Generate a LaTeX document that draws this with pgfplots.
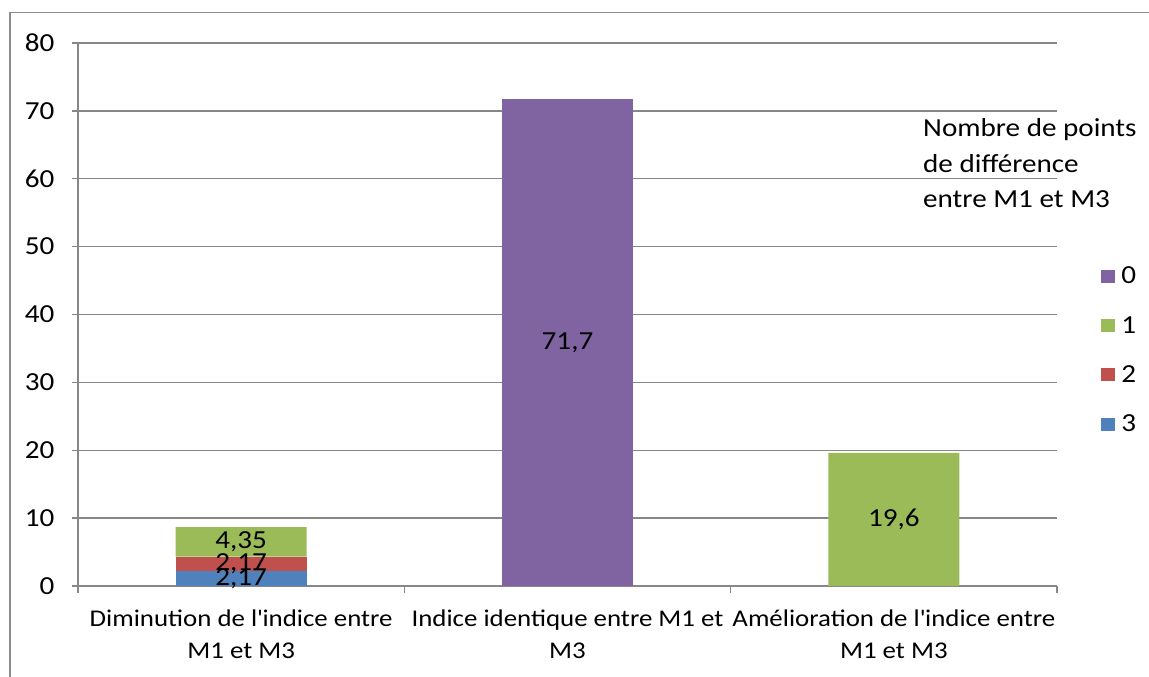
\documentclass[border=0pt]{standalone}
\usepackage{pgfplots}
\pgfplotsset{compat=1.18}
\usepackage{fontspec}
\setmainfont{Carlito}[FakeStretch=1.12]
\definecolor{cblue}{HTML}{4F81BD}
\definecolor{cred}{HTML}{C0504D}
\definecolor{cgreen}{HTML}{9BBB59}
\definecolor{cpurple}{HTML}{8064A2}
\definecolor{gridgray}{HTML}{878787}
\definecolor{framegray}{HTML}{8C8C8C}
\newcommand{\fs}{\fontsize{26}{32}\selectfont}
\newcommand{\fx}{\fontsize{24}{32}\selectfont}
\begin{document}
\begin{tikzpicture}[x=1pt,y=1pt]
\useasboundingbox (0,0) rectangle (1149,677);
\draw[framegray, line width=1.5pt] (10,-10) -- (10,664.5) -- (1160,664.5);
\begin{axis}[
  at={(78pt,91pt)}, anchor=south west,
  scale only axis, width=979pt, height=543pt,
  xmin=-0.5, xmax=2.5, ymin=0, ymax=80,
  ybar stacked, bar width=131pt,
  axis lines*=left,
  axis line style={gridgray, line width=1.4pt},
  ytick={0,10,...,80},
  ymajorgrids, grid style={gridgray, line width=1.4pt},
  tick align=outside, major tick length=6pt, minor tick length=7pt,
  tick style={gridgray, line width=1.4pt},
  xtick={0,1,2}, major x tick style={draw=none},
  minor xtick={-0.5,0.5,1.5,2.5},
  xticklabels={{Diminution de l\textquotesingle indice entre\\M1 et M3},{Indice identique entre M1 et\\M3},{Amélioration de l\textquotesingle indice entre\\M1 et M3}},
  xticklabel style={align=center, font=\fx, yshift=-14pt},
  yticklabel style={font=\fs, xshift=-14pt},
  /pgf/number format/assume math mode=true,
  reverse legend,
  legend style={at={(1.045,0.588)}, anchor=north west, draw=none, fill=none,
    font=\fs, row sep=31pt, column sep=6pt, inner sep=0pt,
    nodes={inner sep=0pt, anchor=west}},
  legend image code/.code={\fill[#1] (0pt,-6.5pt) rectangle (14pt,6.5pt);},
]
\addplot[fill=cblue, draw=none] coordinates {(0,2.17) (1,0) (2,0)};
\addplot[fill=cred, draw=none] coordinates {(0,2.17) (1,0) (2,0)};
\addplot[fill=cgreen, draw=none] coordinates {(0,4.35) (1,0) (2,19.6)};
\addplot[fill=cpurple, draw=none] coordinates {(0,0) (1,71.7) (2,0)};
\legend{3,2,1,0}
\coordinate (l1) at (axis cs:0,1.085);
\coordinate (l2) at (axis cs:0,3.255);
\coordinate (l3) at (axis cs:0,6.525);
\coordinate (l4) at (axis cs:1,35.85);
\coordinate (l5) at (axis cs:2,9.8);
\end{axis}
\node[font=\fs] at (l1) {2,17};
\node[font=\fs] at (l2) {2,17};
\node[font=\fs] at (l3) {4,35};
\node[font=\fs] at (l4) {71,7};
\node[font=\fs] at (l5) {19,6};
\node[font=\fs, anchor=base west, inner sep=0pt] at (923,540) {Nombre de points};
\node[font=\fs, anchor=base west, inner sep=0pt] at (923,504) {de différence};
\node[font=\fs, anchor=base west, inner sep=0pt] at (923,469) {entre M1 et M3};
\end{tikzpicture}
\end{document}
